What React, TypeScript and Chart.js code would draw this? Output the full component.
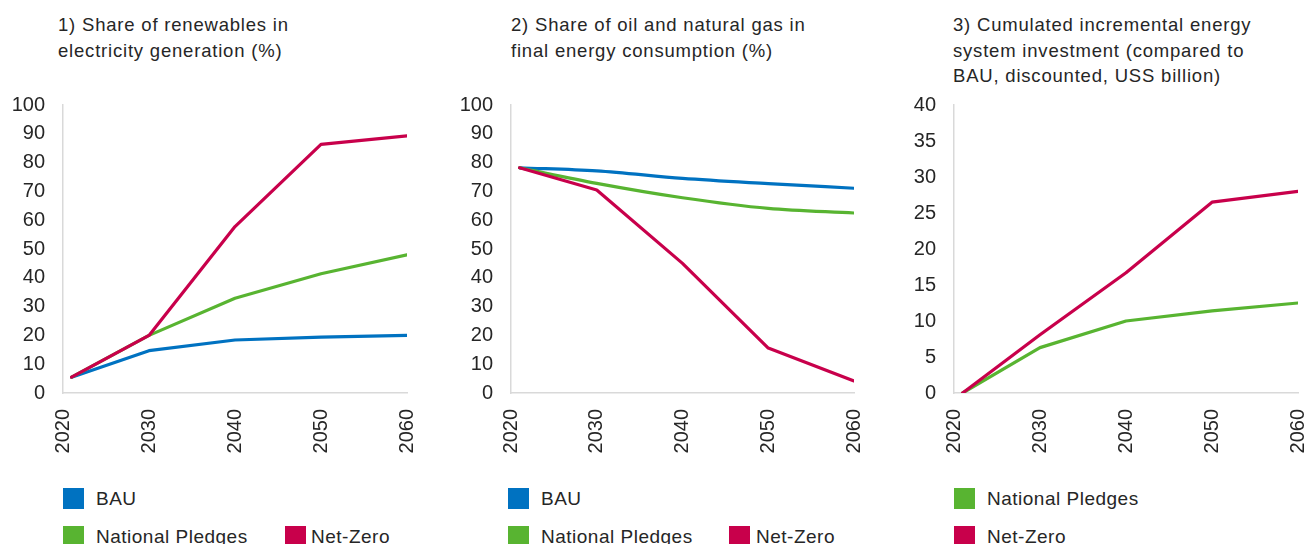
import React, { useEffect, useRef } from "react";
import { Chart, registerables } from "chart.js";

Chart.register(...registerables);

const years = [2021, 2030, 2040, 2050, 2060];
const xTickYears = [2020, 2030, 2040, 2050, 2060];

const renewBAU = [5.5, 14.7, 18.4, 19.4, 20.0];
const renewNP = [5.5, 20.0, 32.9, 41.4, 48.0];
const renewNZ = [5.5, 20.0, 57.8, 86.3, 89.3];

const oilBAU = [78.2, 77.1, 74.5, 72.7, 71.1];
const oilNP = [78.2, 72.8, 67.8, 64.1, 62.5];
const oilNZ = [78.2, 70.5, 45.0, 15.6, 4.2];

const invNP = [0, 6.3, 10.0, 11.4, 12.5];
const invNZ = [0, 8.1, 16.7, 26.5, 28.0];

const titles = [
  ["1) Share of renewables in", "electricity generation (%)"],
  ["2) Share of oil and natural gas in", "final energy consumption (%)"],
  ["3) Cumulated incremental energy", "system investment (compared to", "BAU, discounted, USS billion)"],
];

const seriesNames = { bau: "BAU", np: "National Pledges", nz: "Net-Zero" };
const COLORS = { bau: "#0072C1", np: "#58B431", nz: "#C8004B" };
const TEXT = "#262626";
const AXIS = "#D9D9D9";
const FONT = "'Liberation Sans', Arial, sans-serif";

type Series = { key: "bau" | "np" | "nz"; values: number[]; smooth?: boolean };

type PanelProps = {
  left: number;
  axisX: number;
  plotRight: number;
  yMax: number;
  yStep: number;
  series: Series[];
};

function PanelChart({ left, axisX, plotRight, yMax, yStep, series }: PanelProps) {
  const ref = useRef<HTMLCanvasElement | null>(null);
  const top = 95;
  const padTop = 10;
  const plotH = 288;
  const xH = 60;
  const height = padTop + plotH + xH;
  const padRight = 6;
  const width = plotRight - left + padRight;

  useEffect(() => {
    if (!ref.current) return;
    const orderMap = { nz: 0, np: 1, bau: 2 };
    const chart = new Chart(ref.current, {
      type: "line",
      data: {
        datasets: series.map((s) => ({
          label: seriesNames[s.key],
          data: years.map((y, i) => ({ x: y, y: s.values[i] })),
          borderColor: COLORS[s.key],
          backgroundColor: COLORS[s.key],
          borderWidth: 3.2,
          pointRadius: 0,
          fill: false,
          order: orderMap[s.key],
          cubicInterpolationMode: s.smooth ? "monotone" : "default",
          borderCapStyle: "round",
          borderJoinStyle: "round",
        })),
      },
      options: {
        animation: false,
        responsive: false,
        maintainAspectRatio: false,
        layout: { padding: { left: 0, top: padTop, right: padRight, bottom: 0 } },
        plugins: { legend: { display: false }, tooltip: { enabled: false }, title: { display: false } },
        scales: {
          x: {
            type: "linear",
            min: 2020,
            max: 2060,
            afterBuildTicks: (scale: any) => {
              scale.ticks = xTickYears.map((v) => ({ value: v }));
            },
            afterFit: (scale: any) => {
              scale.height = xH;
              scale.paddingLeft = 0;
              scale.paddingRight = 0;
            },
            grid: { display: false, drawTicks: false },
            border: { display: true, color: AXIS, width: 1.5 },
            ticks: {
              minRotation: 90,
              maxRotation: 90,
              autoSkip: false,
              padding: 16,
              color: TEXT,
              font: { family: FONT, size: 20 },
              callback: (v: any) => String(v),
            },
          },
          y: {
            min: 0,
            max: yMax,
            afterFit: (scale: any) => {
              scale.width = axisX - left;
              scale.paddingTop = 0;
              scale.paddingBottom = 0;
            },
            grid: { display: false, drawTicks: false },
            border: { display: true, color: AXIS, width: 1.5 },
            ticks: {
              stepSize: yStep,
              padding: 18,
              color: TEXT,
              font: { family: FONT, size: 20 },
            },
          },
        },
      } as any,
    });
    return () => chart.destroy();
  }, []);

  return (
    <canvas
      ref={ref}
      width={width}
      height={height}
      style={{ position: "absolute", left, top, width, height }}
    />
  );
}

function Title({ left, lines }: { left: number; lines: string[] }) {
  return (
    <div
      style={{
        position: "absolute",
        left,
        top: 12,
        fontFamily: FONT,
        fontSize: 18.5,
        letterSpacing: "0.8px",
        lineHeight: "25.7px",
        color: TEXT,
        whiteSpace: "nowrap",
      }}
    >
      {lines.map((l, i) => (
        <div key={i}>{l}</div>
      ))}
    </div>
  );
}

function LegendItem({ left, top, k, gap = 12 }: { left: number; top: number; k: "bau" | "np" | "nz"; gap?: number }) {
  return (
    <div
      style={{
        position: "absolute",
        left,
        top,
        height: 21,
        display: "flex",
        alignItems: "center",
        fontFamily: FONT,
        fontSize: 19,
        letterSpacing: "0.5px",
        color: TEXT,
        whiteSpace: "nowrap",
      }}
    >
      <div style={{ width: 21, height: 21, background: COLORS[k], marginRight: gap, flex: "none" }} />
      <span>{seriesNames[k]}</span>
    </div>
  );
}

export default function App() {
  return (
    <div
      style={{
        position: "fixed",
        left: 0,
        top: 0,
        width: 1304,
        height: 544,
        background: "#ffffff",
        overflow: "hidden",
      }}
    >
      <Title left={58} lines={titles[0]} />
      <Title left={511} lines={titles[1]} />
      <Title left={953} lines={titles[2]} />

      <PanelChart
        left={0}
        axisX={63}
        plotRight={407}
        yMax={100}
        yStep={10}
        series={[
          { key: "bau", values: renewBAU },
          { key: "np", values: renewNP },
          { key: "nz", values: renewNZ },
        ]}
      />
      <PanelChart
        left={440}
        axisX={511}
        plotRight={854}
        yMax={100}
        yStep={10}
        series={[
          { key: "bau", values: oilBAU, smooth: true },
          { key: "np", values: oilNP, smooth: true },
          { key: "nz", values: oilNZ },
        ]}
      />
      <PanelChart
        left={880}
        axisX={954}
        plotRight={1298}
        yMax={40}
        yStep={5}
        series={[
          { key: "np", values: invNP },
          { key: "nz", values: invNZ },
        ]}
      />

      <LegendItem left={63} top={488} k="bau" />
      <LegendItem left={63} top={526} k="np" />
      <LegendItem left={285} top={526} k="nz" gap={5} />

      <LegendItem left={508} top={488} k="bau" />
      <LegendItem left={508} top={526} k="np" />
      <LegendItem left={729} top={526} k="nz" gap={6} />

      <LegendItem left={954} top={488} k="np" />
      <LegendItem left={954} top={526} k="nz" />
    </div>
  );
}
